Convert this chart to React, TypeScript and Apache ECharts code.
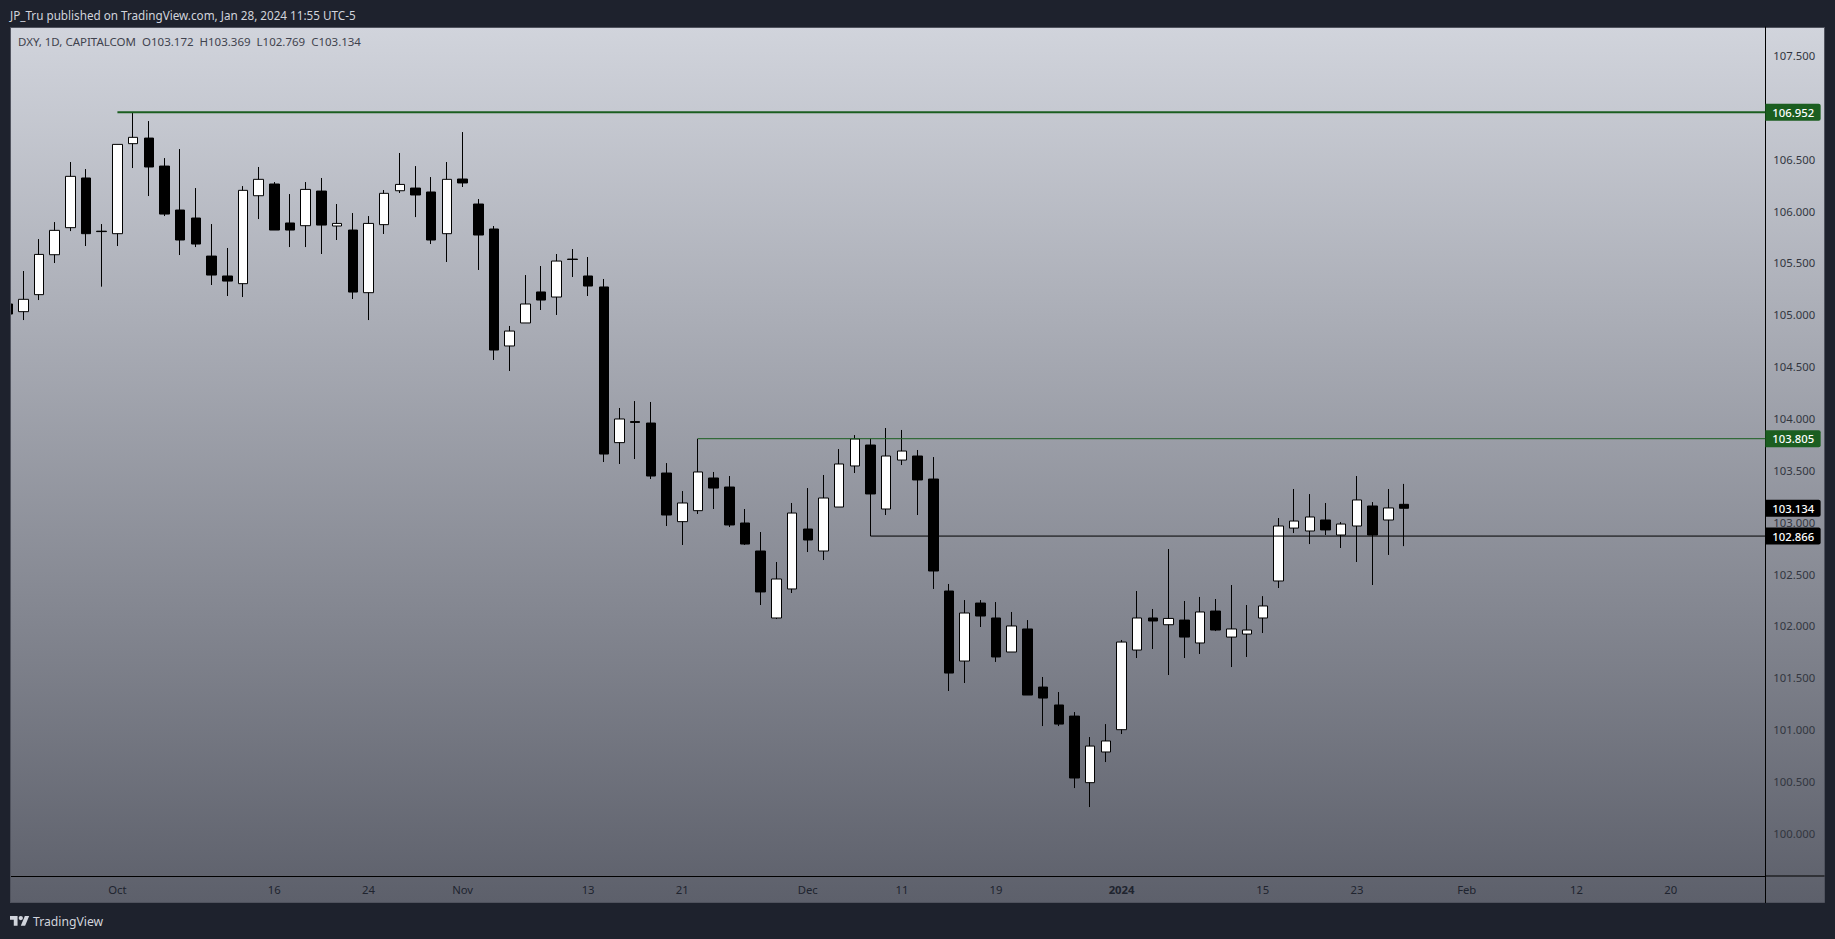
import React, { useEffect, useRef } from "react";
import * as echarts from "echarts";

// OHLC per session, oldest first (first session is cut by the pane's left edge)
const opens = [105.104,105.030,105.194,105.579,105.840,106.319,105.806,105.782,106.650,106.704,106.434,106.010,105.933,105.566,105.374,105.300,106.148,106.261,105.885,105.859,106.193,105.856,105.817,105.213,105.869,106.196,106.222,106.184,105.782,106.309,106.068,105.827,104.699,104.921,105.220,105.171,105.537,105.374,105.268,103.767,103.970,103.956,103.474,103.005,103.111,103.426,103.339,102.992,102.722,102.076,102.356,102.934,102.722,103.146,103.542,103.744,103.127,103.599,103.638,103.416,102.336,101.661,102.220,102.076,101.748,101.970,101.410,101.237,101.130,100.488,100.784,100.999,101.767,102.076,102.011,102.056,101.835,102.143,101.892,101.921,102.076,102.433,102.943,102.915,103.021,102.876,102.963,103.156,103.021,103.172];
const closes = [105.007,105.149,105.582,105.814,106.335,105.782,105.802,106.643,106.711,106.425,105.971,105.721,105.682,105.383,105.325,106.200,106.306,105.817,105.817,106.209,105.865,105.881,105.219,105.881,106.171,106.257,106.155,105.721,106.306,106.271,105.769,104.660,104.843,105.104,105.142,105.518,105.533,105.277,103.657,103.995,103.962,103.445,103.069,103.185,103.484,103.329,102.973,102.789,102.327,102.452,103.088,102.828,103.233,103.561,103.802,103.272,103.638,103.686,103.407,102.529,101.545,102.124,102.095,101.700,101.999,101.333,101.304,101.053,100.533,100.841,100.890,101.844,102.076,102.047,102.072,101.892,102.134,101.960,101.970,101.960,102.192,102.963,103.011,103.050,102.925,102.982,103.214,102.876,103.137,103.134];
const lows = [104.950,104.949,105.142,105.499,105.807,105.663,105.271,105.663,106.415,106.145,105.952,105.576,105.653,105.287,105.181,105.171,105.923,105.817,105.653,105.653,105.586,105.721,105.152,104.949,105.779,106.174,105.942,105.682,105.509,106.232,105.432,104.564,104.458,104.921,105.046,104.998,105.364,105.181,103.580,103.561,103.609,103.416,102.963,102.780,103.079,103.127,102.953,102.780,102.201,102.066,102.317,102.712,102.635,103.146,103.474,102.866,103.069,103.551,103.069,102.356,101.372,101.449,101.989,101.652,101.748,101.333,101.034,101.034,100.436,100.253,100.687,100.957,101.690,101.777,101.526,101.690,101.729,101.950,101.603,101.700,101.931,102.365,102.895,102.789,102.876,102.751,102.616,102.394,102.684,102.769];
const highs = [105.200,105.422,105.730,105.894,106.473,106.405,105.875,106.643,106.952,106.868,106.511,106.598,106.222,105.875,105.644,106.241,106.425,106.280,106.164,106.280,106.319,106.068,105.981,105.952,106.203,106.560,106.434,106.328,106.473,106.762,106.116,105.856,104.892,105.383,105.470,105.586,105.634,105.557,105.345,104.101,104.168,104.159,103.570,103.300,103.805,103.484,103.445,103.127,102.905,102.616,103.185,103.329,103.455,103.705,103.840,103.805,103.908,103.889,103.696,103.628,102.404,102.249,102.249,102.230,102.134,102.056,101.507,101.362,101.169,100.928,101.053,101.864,102.336,102.163,102.741,102.240,102.279,102.259,102.394,102.201,102.287,103.040,103.320,103.271,103.185,103.001,103.445,103.194,103.320,103.369];

const timeTickIndices = [7, 17, 23, 29, 37, 43, 51, 57, 63, 71, 80, 86, 93, 100, 106];
const timeTickLabels = ["Oct", "16", "24", "Nov", "13", "21", "Dec", "11", "19", "2024", "15", "23", "Feb", "12", "20"];
const priceTicks = [100, 100.5, 101, 101.5, 102, 102.5, 103, 103.5, 104, 104.5, 105, 105.5, 106, 106.5, 107, 107.5];

const levelValues = [106.952, 103.805, 102.866];
const levelStarts = [7, 44, 55];
const lastClose = 103.134;

const titleText = "JP_Tru published on TradingView.com, Jan 28, 2024 11:55 UTC-5";
const legendText = "DXY, 1D, CAPITALCOM  O103.172  H103.369  L102.769  C103.134";

const FONT = "'Noto Sans', sans-serif";
const GREEN = "#1b5e20";
const PAGE = "#1e222d";
const X_MIN = 0.153;
const X_MAX = 112.03;

echarts.graphic.registerShape(
  "tvLogo",
  echarts.graphic.extendPath(
    "M14 22H7V11H0V4h14v18zM28 22h-8l7.5-18h8L28 22zM24 8a4 4 0 1 1-8 0 4 4 0 0 1 8 0z",
    {}
  )
);

function priceTag(value: number, color: string) {
  return {
    show: true,
    distance: 0,
    formatter: () => value.toFixed(3),
    color: "#ffffff",
    fontFamily: FONT,
    fontSize: 11.3,
    fontWeight: 500,
    lineHeight: 12,
    backgroundColor: color,
    padding: [2.5, 6.5, 2.5, 7],
    borderRadius: [0, 2, 2, 0],
  };
}

function levelSeries(value: number, start: number, color: string, width: number) {
  return {
    type: "line",
    data: [[start, value], [X_MAX, value]],
    showSymbol: false,
    symbol: "none",
    silent: true,
    clip: false,
    z: 3,
    lineStyle: { color, width },
    endLabel: priceTag(value, color),
  };
}

export default function App() {
  const ref = useRef<HTMLDivElement>(null);

  useEffect(() => {
    const chart = echarts.init(ref.current!, undefined, { renderer: "svg" });
    const candles = opens.map((o, i) => [i, o, closes[i], lows[i], highs[i]]);

    chart.setOption({
      animation: false,
      backgroundColor: PAGE,
      grid: { left: 10, top: 27, width: 1755.3, height: 849, containLabel: false },
      xAxis: {
        type: "value",
        min: X_MIN,
        max: X_MAX,
        position: "bottom",
        splitLine: { show: false },
        axisTick: { show: false },
        axisLine: { show: true, onZero: false, lineStyle: { color: "#000000", width: 1 } },
        axisLabel: {
          customValues: timeTickIndices,
          margin: 8,
          fontFamily: FONT,
          fontSize: 11.3,
          color: "#20242f",
          formatter: (v: number) => {
            const label = timeTickLabels[timeTickIndices.indexOf(v)] ?? "";
            return label === "2024" ? "{b|2024}" : label;
          },
          rich: { b: { fontWeight: "bold", fontFamily: FONT, fontSize: 11.3, color: "#20242f" } },
        },
      },
      yAxis: {
        type: "value",
        position: "right",
        min: 99.588,
        max: 107.775,
        splitLine: { show: false },
        axisTick: { show: false },
        axisLine: { show: true, onZero: false, lineStyle: { color: "#000000", width: 1 } },
        axisLabel: {
          customValues: priceTicks,
          margin: 8,
          fontFamily: FONT,
          fontSize: 11.3,
          color: "#32363f",
          formatter: (v: number) => v.toFixed(3),
        },
      },
      series: [
        {
          type: "candlestick",
          data: candles,
          barWidth: 10,
          clip: true,
          z: 2,
          itemStyle: {
            color: "#ffffff",
            color0: "#000000",
            borderColor: "#000000",
            borderColor0: "#000000",
            borderWidth: 1,
          },
        },
        levelSeries(levelValues[0], levelStarts[0], GREEN, 2),
        levelSeries(levelValues[1], levelStarts[1], GREEN, 1),
        levelSeries(levelValues[2], levelStarts[2], "#000000", 1),
        {
          type: "line",
          data: [[X_MAX - 1, lastClose], [X_MAX, lastClose]],
          symbol: "none",
          silent: true,
          clip: false,
          z: 3,
          lineStyle: { width: 0, opacity: 0 },
          endLabel: priceTag(lastClose, "#000000"),
        },
      ],
      graphic: [
        {
          type: "rect",
          z: -10,
          silent: true,
          shape: { x: 10.5, y: 27.5, width: 1814, height: 875 },
          style: {
            fill: new echarts.graphic.LinearGradient(0, 0, 0, 1, [
              { offset: 0, color: "#d1d4dc" },
              { offset: 1, color: "#5d606b" },
            ]),
            stroke: "#50535e",
            lineWidth: 1,
          },
        },
        // left page margin sits above the candle that the pane cuts off
        {
          type: "rect",
          z: 10,
          silent: true,
          shape: { x: 0, y: 27, width: 10, height: 876 },
          style: { fill: PAGE },
        },
        {
          type: "line",
          z: 10,
          silent: true,
          shape: { x1: 10.5, y1: 27, x2: 10.5, y2: 903 },
          style: { stroke: "#50535e", lineWidth: 1 },
        },
        {
          type: "line",
          z: 1,
          silent: true,
          shape: { x1: 1765.5, y1: 876, x2: 1824.5, y2: 876 },
          style: { stroke: "#000000", lineWidth: 1 },
        },
        {
          type: "line",
          z: 1,
          silent: true,
          shape: { x1: 1765.5, y1: 876, x2: 1765.5, y2: 903 },
          style: { stroke: "#000000", lineWidth: 1 },
        },
        {
          type: "text",
          z: 11,
          x: 10,
          y: 15,
          style: {
            text: titleText,
            fill: "#d1d4dc",
            font: `11.7px ${FONT}`,
            verticalAlign: "middle",
          },
        },
        {
          type: "text",
          z: 11,
          x: 18,
          y: 41.5,
          style: {
            text: legendText,
            fill: "#3f434e",
            font: `11.5px ${FONT}`,
            verticalAlign: "middle",
          },
        },
        {
          type: "tvLogo",
          z: 11,
          x: 10,
          y: 913.8,
          scaleX: 0.54,
          scaleY: 0.54,
          style: { fill: "#d1d4dc" },
        },
        {
          type: "text",
          z: 11,
          x: 33,
          y: 921.5,
          style: {
            text: "TradingView",
            fill: "#d1d4dc",
            font: `12.2px ${FONT}`,
            verticalAlign: "middle",
          },
        },
      ],
    });

    return () => chart.dispose();
  }, []);

  return (
    <div
      ref={ref}
      style={{ position: "fixed", left: 0, top: 0, width: 1835, height: 939 }}
    />
  );
}
